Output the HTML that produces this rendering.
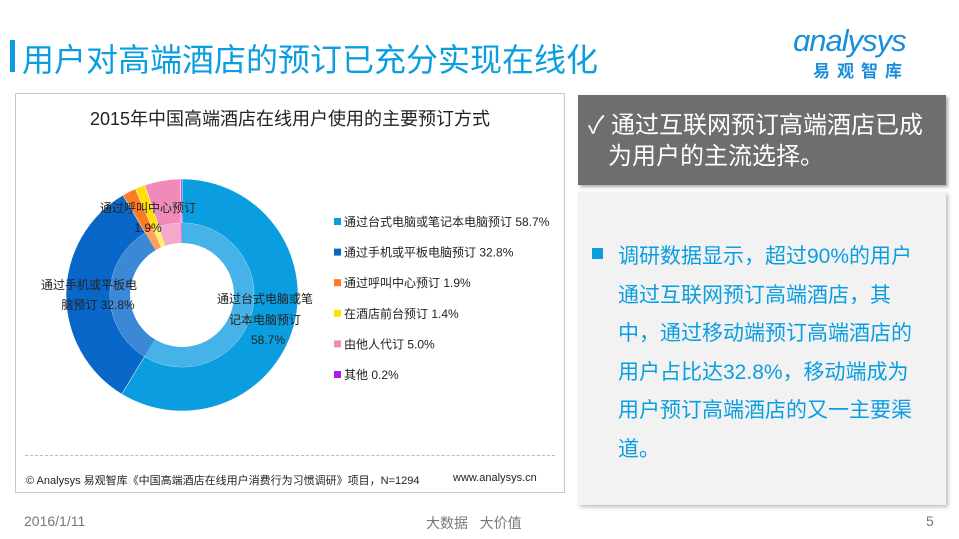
<!DOCTYPE html>
<html><head><meta charset="utf-8"><style>
body{margin:0;width:959px;height:539px;background:#fff;position:relative;overflow:hidden;font-family:"Liberation Sans","Noto Sans CJK SC",sans-serif}
.a{position:absolute}
</style></head><body>
<div class="a" style="left:10px;top:40px;width:5px;height:32px;background:#0a9ee0"></div>
<div class="a" style="left:22px;top:35px;font-size:32px;color:#0a9ee0">用户对高端酒店的预订已充分实现在线化</div>
<div class="a" style="left:793px;top:25px;width:140px;color:#1a8ed8">
<div style="font-size:31px;font-style:italic;line-height:32px;letter-spacing:-1px;color:#1a8ed8">ɑnalysys</div>
<div style="font-size:17px;letter-spacing:7px;padding-left:20px;font-weight:bold;color:#1a8ed8">易观智库</div></div>

<div class="a" style="left:15px;top:93px;width:550px;height:400px;border:1px solid #c8c8c8;box-sizing:border-box"></div>
<div class="a" style="left:15px;top:105px;width:550px;text-align:center;font-size:18px;color:#222">2015年中国高端酒店在线用户使用的主要预订方式</div>
<svg class="a" style="left:0;top:0" width="570" height="500" id="svg"></svg>
<div class="a" style="left:25px;top:455px;width:530px;border-top:1px dashed #bbb"></div>
<div class="a" style="left:26px;top:472px;font-size:11px;color:#222">© Analysys 易观智库《中国高端酒店在线用户消费行为习惯调研》项目，N=1294</div>
<div class="a" style="left:453px;top:472px;font-size:11px;color:#222">www.analysys.cn</div>

<div class="a" style="left:578px;top:95px;width:368px;height:90px;background:#6e6e6e;box-shadow:2px 2px 3px #aaa"></div>
<div class="a" style="left:588px;top:110px;width:355px;font-size:24px;line-height:31px;color:#fff">✓ 通过互联网预订高端酒店已成<br>&nbsp;&nbsp;&nbsp;为用户的主流选择。</div>
<div class="a" style="left:578px;top:192px;width:368px;height:313px;background:#f2f2f2;box-shadow:2px 2px 4px #bbb"></div>
<div class="a" style="left:592px;top:248px;width:11px;height:11px;background:#0a9ee0"></div>
<div class="a" style="left:618px;top:238px;width:310px;font-size:21px;line-height:38.5px;color:#0a9ee0">调研数据显示，超过90%的用户通过互联网预订高端酒店，其中，通过移动端预订高端酒店的用户占比达32.8%，移动端成为用户预订高端酒店的又一主要渠道。</div>

<div class="a" style="left:24px;top:513px;font-size:14px;color:#777">2016/1/11</div>
<div class="a" style="left:426px;top:513px;font-size:14px;color:#777">大数据&nbsp;&nbsp;&nbsp;大价值</div>
<div class="a" style="left:926px;top:513px;font-size:14px;color:#777">5</div>

<script>
const categories=["通过台式电脑或笔记本电脑预订","通过手机或平板电脑预订","通过呼叫中心预订","在酒店前台预订","由他人代订","其他"];
const values=[58.7,32.8,1.9,1.4,5.0,0.2];
const labels=["58.7%","32.8%","1.9%","1.4%","5.0%","0.2%"];
const colors=["#0a9ee0","#0867c8","#fd7b23","#ffe000","#f08ab8","#b01ee0"];
const inner=["#45b3e8","#3b88d6","#fea060","#fff070","#f5a8cc","#c860ea"];
const svg=document.getElementById('svg');const NS="http://www.w3.org/2000/svg";
const cx=182,cy=295,R=116,Rm=72,Ri=52;
const total=values.reduce((a,b)=>a+b,0);
function pt(r,a){return [cx+r*Math.sin(a),cy-r*Math.cos(a)];}
function arc(r1,r2,a0,a1){const L=(a1-a0)>Math.PI?1:0;const p=pt(r2,a0),q=pt(r2,a1),s=pt(r1,a1),t=pt(r1,a0);
return `M${p}A${r2},${r2} 0 ${L} 1 ${q}L${s}A${r1},${r1} 0 ${L} 0 ${t}Z`;}
let a=0;
values.forEach((v,i)=>{const a1=a+v/total*2*Math.PI;
const o=document.createElementNS(NS,'path');o.setAttribute('d',arc(Rm,R,a,a1));o.setAttribute('fill',colors[i]);o.setAttribute('stroke','#fff');o.setAttribute('stroke-width','0.5');


svg.appendChild(o);
const n=document.createElementNS(NS,'path');n.setAttribute('d',arc(Ri,Rm,a,a1));n.setAttribute('fill',inner[i]);


svg.appendChild(n);a=a1;});
function txt(x,y,s,anchor){const t=document.createElementNS(NS,'text');t.setAttribute('x',x);t.setAttribute('y',y);t.setAttribute('font-size','12');t.setAttribute('fill','#222');t.setAttribute('text-anchor',anchor||'middle');t.textContent=s;


svg.appendChild(t);}
txt(265,303,"通过台式电脑或笔");txt(265,324,"记本电脑预订");txt(268,344,labels[0]);
txt(89,289,"通过手机或平板电");txt(98,309,"脑预订 "+labels[1]);
txt(148,212,"通过呼叫中心预订");txt(148,232,labels[2]);
categories.forEach((c,i)=>{const y=226+i*30.6;
const r=document.createElementNS(NS,'rect');r.setAttribute('x',334);r.setAttribute('y',y-8);r.setAttribute('width',7);r.setAttribute('height',7);r.setAttribute('fill',colors[i]);


svg.appendChild(r);
txt(344,y,c+" "+labels[i],'start');});
</script>
</body></html>
